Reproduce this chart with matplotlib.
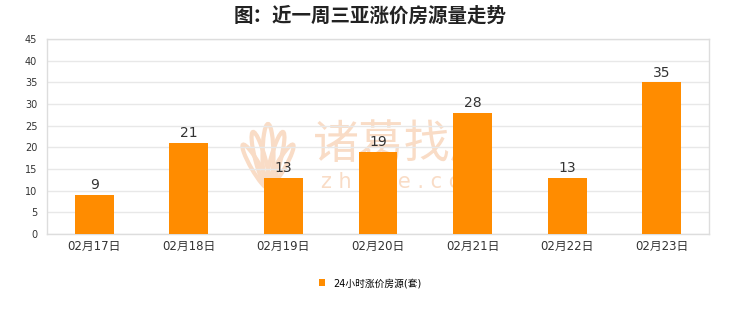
import matplotlib
matplotlib.use("Agg")
import matplotlib.pyplot as plt
from matplotlib.patches import Ellipse
from matplotlib.transforms import IdentityTransform
import numpy as np

plt.rcParams['font.family'] = ['DejaVu Sans', 'Noto Sans CJK SC']

categories = ["02月17日", "02月18日", "02月19日", "02月20日", "02月21日", "02月22日", "02月23日"]
values = [9, 21, 13, 19, 28, 13, 35]
yticks = [0, 5, 10, 15, 20, 25, 30, 35, 40, 45]

ORANGE = "#ff8c00"
GRID_C = "#e8e8e8"
TEXT_C = "#333333"
WM_C = "#f9dcc6"

fig = plt.figure(figsize=(7.4, 3.12), dpi=100)
ax = fig.add_axes([47 / 740, 1 - 234 / 312, 662 / 740, 195 / 312])

x = np.arange(len(categories))
bars = ax.bar(x, values, width=0.41, color=ORANGE, zorder=3, label="24小时涨价房源(套)")
for b, v in zip(bars, values):
    ax.text(b.get_x() + b.get_width() / 2, v + 0.6, str(v), ha="center", va="bottom",
            fontsize=10, color=TEXT_C, zorder=4)

ax.set_xlim(-0.5, len(categories) - 0.5)
ax.set_ylim(0, 45)
ax.set_yticks(yticks)
ax.set_xticks(x)
ax.set_xticklabels(categories, fontsize=8.5)
ax.tick_params(axis="both", length=0, colors=TEXT_C)
ax.tick_params(axis="y", pad=7, labelsize=7)
ax.tick_params(axis="x", pad=4)
ax.grid(axis="y", color=GRID_C, linewidth=1, zorder=0)
for s in ax.spines.values():
    s.set_color("#dddddd")
    s.set_linewidth(1)

# watermark (behind bars)
ax.text(405 / 740, 1 - 145 / 312, "诸葛找房", transform=fig.transFigure, fontsize=33,
        color=WM_C, ha="center", va="center", family="Noto Sans CJK SC", zorder=1)
ax.text(405 / 740, 1 - 182 / 312, "z h u g e . c o m", transform=fig.transFigure,
        fontsize=15, color=WM_C, ha="center", va="center", zorder=1)
for ang, w, h in [(-30, 9, 50), (-15, 10, 58), (0, 11, 64), (15, 10, 58), (30, 9, 50)]:
    t = np.deg2rad(ang)
    cx = 268 - np.sin(t) * h / 2
    cy = 124 + np.cos(t) * h / 2
    ax.add_patch(Ellipse((cx, cy), w, h, angle=ang, transform=IdentityTransform(),
                         facecolor="none", edgecolor=WM_C, linewidth=3, zorder=1))

fig.suptitle("图：近一周三亚涨价房源量走势", fontsize=14, fontweight="bold", color="#222222",
             y=0.98, family="Noto Sans CJK SC")

leg = fig.legend(handles=[bars], labels=["24小时涨价房源(套)"], loc="center",
                 bbox_to_anchor=(0.5, 1 - 283 / 312), frameon=False, fontsize=7,
                 handlelength=0.7, handleheight=0.7, handletextpad=0.8)

fig.savefig("out.png", dpi=100)
